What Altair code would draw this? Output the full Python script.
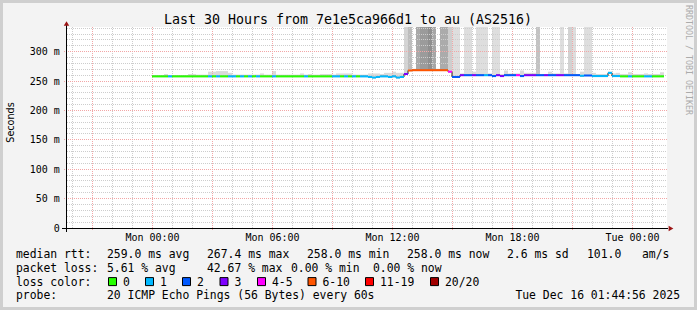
import math
import altair as alt
import pandas as pd

# ---------------- data ----------------
BIN_HOURS = 0.2  # one RRD step = 12 minutes, hours after Mon 00:00

# loss class per step: 0,1,2,3, 4 -> "4-5", 6 -> "6-10"
LOSS_CODE_RUNS = ("0000 1 000000000 1 0 1 00 11 0 1 0 1 0 1 000 1 0000000 1 000000 11 0 1 0 1 0 "
                  "11111111111 3 6666666666 4 22322 3 22122 33 222 4 2 333 22 3 22 33 2222 1 22 "
                  "1111111 00 1 000 11 000")
LOSS_CODES = list(LOSS_CODE_RUNS.replace(" ", ""))

MEDIAN_MS = [
    258, 258, 258, 258, 258, 258, 258, 258, 258, 258,
    258, 258, 258, 258, 258, 258, 258, 258, 258, 258,
    258, 258, 258, 258, 258, 258, 258, 258, 258, 258,
    258, 258, 258, 258, 258, 258, 258, 258, 258, 258,
    258, 258, 258, 258, 258, 258, 258, 258, 258, 258,
    258, 258, 258, 258, 257, 256, 257, 258, 258, 257,
    258, 256, 257, 262, 268, 268.5, 268.5, 268.5, 268.5, 268.5,
    268.5, 268.5, 268.5, 268.5, 266, 257, 257, 260, 260, 260,
    260, 260, 260, 260, 260, 258.5, 260, 258.5, 260, 260,
    260, 260, 258.5, 260, 260, 260, 260, 260, 260, 260,
    260, 260, 260, 260, 260, 260, 260, 259, 259.5, 259.5,
    258.5, 258.5, 258.5, 258.5, 264, 258.5, 258.5, 258, 258, 258,
    258, 258, 258, 258, 258, 258, 258, 258,
]

SMOKE_TOP_MS = [
    260, 260, 260, 262, 260, 260, 260, 260, 260, 262,
    262, 261, 261, 261, 266, 266, 267, 267, 267, 264,
    261, 261, 261, 261, 261, 261, 261, 263, 261, 261,
    267, 261, 261, 261, 261, 261, 261, 263, 261, 262,
    261, 261, 262, 262, 262, 261, 263, 263, 263, 263,
    261, 261, 261, 261, 263, 263, 263, 262, 264, 264,
    266, 264, 264, 270, 270, 271, 270, 270, 270, 270,
    270, 271, 270, 270, 268, 262, 262, 263, 262, 262,
    266, 262, 262, 262, 263, 262, 262, 262, 268, 263,
    263, 263, 268, 264, 264, 264, 262, 262, 262, 266,
    263, 263, 262, 263, 262, 262, 262, 266, 262, 262,
    264, 262, 262, 262, 266, 263, 264, 262, 262, 265,
    262, 262, 262, 263, 262, 262, 262, 265,
]

# steps whose slowest pings go beyond the top of the graph, with their smoke shade
TALL_BINS = [63, 64, 66, 67, 68, 69, 70, 72, 73, 74, 75, 76, 78, 79,
             81, 82, 83, 85, 86, 96, 102, 104, 105, 108, 109]
TALL_SHADES = ["#d4d4d4", "#bdbdbd", "#a9a9a9", "#9b9b9b", "#9b9b9b", "#8f8f8f", "#a6a6a6",
               "#ababab", "#ababab", "#cecece", "#dedede", "#dedede", "#dedede", "#dedede",
               "#dedede", "#dedede", "#dedede", "#dedede", "#dedede", "#c3c3c3", "#dedede",
               "#d2d2d2", "#dedede", "#dedede", "#dedede"]

X_TICKS_H = [0, 6, 12, 18, 24]
X_TICK_LABELS = ["Mon 00:00", "Mon 06:00", "Mon 12:00", "Mon 18:00", "Tue 00:00"]
Y_TICKS_MS = [0, 50, 100, 150, 200, 250, 300]

LEGEND_LABELS = ["0", "1", "2", "3", "4-5", "6-10", "11-19", "20/20"]
CODE_TO_LABEL = {"0": "0", "1": "1", "2": "2", "3": "3", "4": "4-5", "6": "6-10"}

TITLE = "Last 30 Hours from 7e1e5ca966d1 to au (AS2516)"
Y_TITLE = "Seconds"
SIDE_TEXT = "RRDTOOL / TOBI OETIKER"
MEDIAN_STATS = ["median rtt:", "259.0 ms avg", "267.4 ms max", "258.0 ms min",
                "258.0 ms now", "2.6 ms sd", "101.0", "am/s"]
LOSS_STATS = ["packet loss:", "5.61 % avg", "42.67 % max", "0.00 % min", "0.00 % now"]
LOSS_COLOR_TITLE = "loss color:"
PROBE_LINE = ["probe:", "20 ICMP Echo Pings (56 Bytes) every 60s"]
STAMP = "Tue Dec 16 01:44:56 2025"

# ---------------- styles / layout ----------------
LOSS_PALETTE = ["#26ff00", "#00b8ff", "#0059ff", "#7e00ff", "#ff00ff", "#ff5500", "#ff0000", "#a10000"]
MONO = "DejaVu Sans Mono"
SANS = "DejaVu Sans"
OX, OY = 67, 27            # plot origin inside the 697x310 picture
PW, PH = 600, 201          # plot size
X_DOMAIN = [-4.25, 25.75]  # hours relative to Mon 00:00
Y_DOMAIN = [0, 342]
PX_PER_H = PW / (X_DOMAIN[1] - X_DOMAIN[0])

MEDIAN_STATS_X = [16, 107, 207, 307, 407, 507, 587, 642]
LOSS_STATS_X = [16, 107, 207, 291, 373]
LEGEND_BOX_X = [108, 145, 182, 219.5, 257, 307.5, 365, 430]
LINE_BASE_Y = [258.3, 271.9, 285.6, 299.3]
STAT_FONT = 11.4

GRID_MINOR = "#cdcdcd"
GRID_MAJOR = "#f2a6a6"


def crisp_value(v):
    """shift a grid value so its 1px rule sits on a pixel row"""
    py = PH - v * PH / Y_DOMAIN[1]
    pc = math.floor(py + OY) + 0.5 - OY
    return (PH - pc) * Y_DOMAIN[1] / PH


HALF_PX_H = 0.5 / PX_PER_H

# ---------------- tables ----------------
n = len(MEDIAN_MS)
assert len(LOSS_CODES) == n and len(SMOKE_TOP_MS) == n

bins = pd.DataFrame({
    "t0": [i * BIN_HOURS for i in range(n)],
    "t1": [(i + 1) * BIN_HOURS for i in range(n)],
    "med": MEDIAN_MS,
    "loss": [CODE_TO_LABEL[c] for c in LOSS_CODES],
    "smoke_hi": SMOKE_TOP_MS,
})
bins["smoke_lo"] = bins["med"] - 1.5

tall = pd.DataFrame({
    "t0": [b * BIN_HOURS for b in TALL_BINS],
    "t1": [(b + 1) * BIN_HOURS for b in TALL_BINS],
    "lo": [MEDIAN_MS[b] + 1.5 for b in TALL_BINS],
    "hi": [Y_DOMAIN[1]] * len(TALL_BINS),
    "shade": TALL_SHADES,
})

step = pd.DataFrame({"t": list(bins["t0"]) + [n * BIN_HOURS],
                     "med": MEDIAN_MS + [MEDIAN_MS[-1]]})

minor_x = pd.DataFrame({"h": [h + HALF_PX_H for h in range(-4, 26) if h % 3 != 0]})
major_x = pd.DataFrame({"h": [h + HALF_PX_H for h in range(-3, 26, 3)]})
minor_y = pd.DataFrame({"v": [crisp_value(v) for v in range(10, 341, 10) if v % 50 != 0]})
major_y = pd.DataFrame({"v": [crisp_value(v) for v in range(50, 301, 50)]})

xs = alt.Scale(domain=X_DOMAIN, nice=False, zero=False)
ys = alt.Scale(domain=Y_DOMAIN, nice=False, zero=False)

x_label_expr = " : ".join(f"datum.value == {v} ? '{l}'" for v, l in zip(X_TICKS_H, X_TICK_LABELS)) + " : ''"
y_label_expr = "datum.value == 0 ? '0\u00a0\u00a0' : datum.value + ' m'"

X_AXIS = alt.Axis(values=X_TICKS_H, labelExpr=x_label_expr, title=None, grid=False, domain=False,
                  ticks=False, tickSize=0, labelPadding=4, labelFont=MONO, labelFontSize=10,
                  labelColor="#000000", labelFlush=False, labelOverlap=False)
Y_AXIS = alt.Axis(values=Y_TICKS_MS, labelExpr=y_label_expr, title=None, grid=False, domain=False,
                  ticks=False, tickSize=0, labelPadding=7.7, labelFont=MONO, labelFontSize=10,
                  labelColor="#000000", labelAlign="right", labelBaseline="middle",
                  labelFlush=False, labelOverlap=False)


def X(field):
    return alt.X(field, scale=xs, axis=X_AXIS)


def Y(field):
    return alt.Y(field, scale=ys, axis=Y_AXIS)


one = pd.DataFrame({"s": [""]})

# ---------------- layers ----------------
layers = []

# smoke close to the median
layers.append(alt.Chart(bins).mark_rect(color="#dadada").encode(
    x=X("t0:Q"), x2="t1:Q", y=Y("smoke_lo:Q"), y2="smoke_hi:Q"))

# smoke running off the top
layers.append(alt.Chart(tall).mark_rect().encode(
    x=X("t0:Q"), x2="t1:Q", y=Y("lo:Q"), y2="hi:Q",
    color=alt.Color("shade:N", scale=None)))

# grid
layers.append(alt.Chart(minor_x).mark_rule(color=GRID_MINOR, strokeDash=[1, 1], strokeWidth=1).encode(
    x=X("h:Q"), y=alt.value(0), y2=alt.value(PH)))
layers.append(alt.Chart(minor_y).mark_rule(color=GRID_MINOR, strokeDash=[1, 1], strokeWidth=1).encode(
    y=Y("v:Q"), x=alt.value(0), x2=alt.value(PW)))
layers.append(alt.Chart(major_x).mark_rule(color=GRID_MAJOR, strokeDash=[1, 1], strokeWidth=1).encode(
    x=X("h:Q"), y=alt.value(0), y2=alt.value(PH + 3)))
layers.append(alt.Chart(major_y).mark_rule(color=GRID_MAJOR, strokeDash=[1, 1], strokeWidth=1).encode(
    y=Y("v:Q"), x=alt.value(-3), x2=alt.value(PW)))

# axes lines and arrows
layers.append(alt.Chart(one).mark_rule(color="#000000", strokeWidth=1).encode(
    x=alt.value(-5), x2=alt.value(PW + 1), y=alt.value(PH + 0.5)))
layers.append(alt.Chart(one).mark_rule(color="#000000", strokeWidth=1).encode(
    x=alt.value(-0.5), y=alt.value(-2), y2=alt.value(PH + 4)))
layers.append(alt.Chart(one).mark_point(shape="triangle-up", filled=True, size=30, opacity=1,
                                        color="#9c1414").encode(
    x=alt.value(-0.5), y=alt.value(-3.5)))
layers.append(alt.Chart(one).mark_point(shape="triangle-right", filled=True, size=30, opacity=1,
                                        color="#9c1414").encode(
    x=alt.value(PW + 4), y=alt.value(PH + 0.5)))

# median: thin dark step line underneath, coloured loss segments on top
layers.append(alt.Chart(step).mark_line(interpolate="step-after", color="#202020", strokeWidth=1).encode(
    x=X("t:Q"), y=Y("med:Q")))
layers.append(alt.Chart(bins).mark_rule(strokeWidth=2, strokeCap="butt").encode(
    x=X("t0:Q"), x2="t1:Q", y=Y("med:Q"),
    color=alt.Color("loss:N", scale=alt.Scale(domain=LEGEND_LABELS, range=LOSS_PALETTE), legend=None)))


def text(s, x, y, size, font=MONO, align="left", angle=0, color="#000000", baseline="alphabetic"):
    return alt.Chart(pd.DataFrame({"s": [s]})).mark_text(
        align=align, baseline=baseline, font=font, fontSize=size, angle=angle, color=color
    ).encode(x=alt.value(x - OX), y=alt.value(y - OY), text="s:N")


layers.append(text(TITLE, 348, 24, 13.3, align="center"))
layers.append(text(Y_TITLE, 11, 122.5, 9.6, font=SANS, align="center", angle=270, baseline="middle"))
layers.append(text(SIDE_TEXT, 688, 60, 8.3, align="center", angle=90, baseline="middle", color="#ababab"))

for s, x in zip(MEDIAN_STATS, MEDIAN_STATS_X):
    layers.append(text(s, x, LINE_BASE_Y[0], STAT_FONT))
for s, x in zip(LOSS_STATS, LOSS_STATS_X):
    layers.append(text(s, x, LINE_BASE_Y[1], STAT_FONT))
layers.append(text(LOSS_COLOR_TITLE, 16, LINE_BASE_Y[2], STAT_FONT))
for lab, col, bx in zip(LEGEND_LABELS, LOSS_PALETTE, LEGEND_BOX_X):
    layers.append(alt.Chart(one).mark_rect(color=col, stroke="#000000", strokeWidth=1).encode(
        x=alt.value(bx - OX + 0.5), x2=alt.value(bx - OX + 8.5),
        y=alt.value(LINE_BASE_Y[2] - OY - 8), y2=alt.value(LINE_BASE_Y[2] - OY)))
    layers.append(text(lab, bx + 15, LINE_BASE_Y[2], STAT_FONT))
layers.append(text(PROBE_LINE[0], 16, LINE_BASE_Y[3], STAT_FONT))
layers.append(text(PROBE_LINE[1], 107, LINE_BASE_Y[3], STAT_FONT))
layers.append(text(STAMP, 680, LINE_BASE_Y[3], STAT_FONT, align="right"))

# picture frame
layers.append(alt.Chart(one).mark_rect(fillOpacity=0, stroke="#cfcfcf", strokeWidth=3).encode(
    x=alt.value(-OX + 1.5), x2=alt.value(697 - OX - 1.5),
    y=alt.value(-OY + 1.5), y2=alt.value(310 - OY - 1.5)))

chart = alt.layer(*layers).properties(
    width=PW, height=PH,
    padding={"left": OX, "top": OY, "right": 697 - OX - PW, "bottom": 310 - OY - PH},
    autosize=alt.AutoSizeParams(type="none"),
    background="#f3f3f3",
).configure_view(stroke=None, fill="#ffffff")

chart.save("out.html", embed_options={"renderer": "svg", "actions": False})
